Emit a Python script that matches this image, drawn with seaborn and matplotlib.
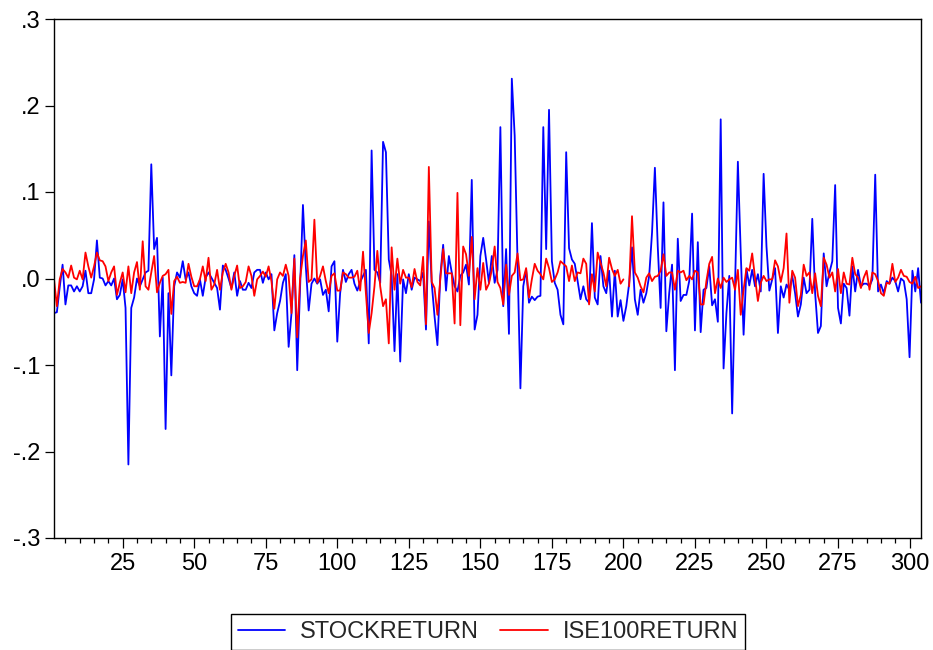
import numpy as np
import pandas as pd
import matplotlib
matplotlib.use("Agg")
import matplotlib.pyplot as plt
import seaborn as sns
from matplotlib.ticker import MultipleLocator

stockreturn = [
    -0.040, -0.039, -0.010, 0.016, -0.030, -0.008, -0.008, -0.015, -0.009, -0.015,
    -0.009, 0.009, -0.017, -0.017, -0.001, 0.044, 0.001, 0.000, -0.008, -0.003,
    -0.008, 0.000, -0.024, -0.019, -0.001, -0.034, -0.215, -0.034, -0.022, 0.000,
    -0.009, -0.001, 0.007, 0.009, 0.132, 0.034, 0.047, -0.067, 0.001, -0.174,
    -0.017, -0.112, -0.009, 0.007, 0.001, 0.020, -0.001, 0.007, -0.009, -0.017,
    -0.020, -0.001, -0.020, 0.001, 0.007, 0.001, -0.005, -0.011, -0.036, 0.015,
    0.010, 0.000, -0.011, 0.007, -0.020, -0.003, -0.013, -0.013, -0.005, -0.011,
    0.007, 0.010, 0.010, -0.005, 0.007, -0.001, 0.005, -0.060, -0.040, -0.026,
    -0.005, 0.005, -0.079, -0.040, 0.027, -0.106, -0.009, 0.085, 0.014, -0.037,
    -0.006, 0.000, -0.006, -0.001, -0.019, -0.013, -0.038, 0.014, 0.020, -0.073, -0.017,
    0.010, -0.004, 0.005, 0.010, -0.006, -0.014, -0.004, 0.003, 0.010, -0.075,
    0.148, 0.010, 0.007, -0.005, 0.158, 0.146, 0.022, 0.003, -0.084, 0.005,
    -0.096, -0.001, -0.017, 0.005, -0.013, 0.001, -0.001, -0.003, 0.007, -0.059,
    0.066, -0.005, -0.044, -0.077, 0.003, 0.039, -0.014, 0.026, 0.007, -0.009,
    -0.015, 0.003, 0.007, 0.016, -0.007, 0.114, -0.059, -0.042, 0.026, 0.047,
    0.022, -0.005, 0.026, -0.005, 0.010, 0.175, -0.032, 0.034, -0.064, 0.231,
    0.165, 0.020, -0.127, -0.009, 0.010, -0.028, -0.021, -0.025, -0.021, -0.020,
    0.175, 0.034, 0.195, 0.020, -0.005, -0.013, -0.042, -0.053, 0.146, 0.035,
    0.022, 0.017, -0.003, -0.024, -0.009, -0.024, -0.028, 0.064, -0.022, -0.030,
    0.026, -0.009, -0.017, 0.009, -0.044, 0.009, -0.044, -0.025, -0.049, -0.032,
    -0.006, 0.036, -0.024, -0.042, -0.013, -0.028, -0.017, 0.003, 0.053, 0.128,
    0.037, -0.034, 0.088, -0.061, -0.017, 0.016, -0.106, 0.046, -0.026, -0.019,
    -0.019, -0.003, 0.075, -0.060, 0.042, -0.062, -0.013, -0.011, 0.014, -0.031, -0.024,
    -0.050, 0.184, -0.104, -0.040, 0.003, -0.156, -0.009, 0.135, 0.030, -0.065,
    0.011, -0.008, 0.010, -0.009, 0.005, -0.015, 0.121, 0.037, -0.014, -0.001,
    0.012, -0.063, -0.009, -0.022, -0.007, -0.013, 0.003, -0.017, -0.044, -0.030,
    0.001, -0.017, -0.013, 0.069, -0.017, -0.063, -0.055, 0.029, -0.009, 0.007,
    0.020, 0.108, -0.034, -0.052, -0.006, -0.011, -0.043, 0.014, -0.015, 0.010,
    -0.009, -0.006, -0.006, -0.009, -0.001, 0.120, -0.015, -0.007, -0.017, -0.003,
    -0.006, 0.001, -0.003, -0.015, 0.000, -0.003, -0.024, -0.091, 0.009, -0.015,
    0.012, -0.028,
]

ise100return = [
    -0.001, -0.032, -0.001, 0.011, 0.007, 0.001, 0.015, 0.001, -0.001, 0.009,
    -0.001, 0.030, 0.014, 0.001, 0.014, 0.030, 0.021, 0.020, 0.014, -0.003,
    0.007, 0.014, -0.019, -0.005, 0.007, -0.016, 0.014, -0.017, 0.007, 0.019,
    -0.013, 0.043, -0.009, -0.013, 0.007, 0.026, -0.016, -0.005, 0.003, 0.005,
    0.010, -0.041, -0.003, 0.002, -0.005, -0.004, -0.005, 0.017, 0.002, -0.009,
    -0.009, -0.001, 0.014, -0.003, 0.024, -0.013, -0.007, 0.010, -0.013, 0.007,
    0.017, 0.007, -0.013, 0.003, 0.015, -0.011, -0.009, -0.004, 0.014, 0.003,
    -0.020, -0.001, 0.003, 0.008, 0.002, 0.014, -0.003, -0.035, -0.001, 0.007,
    0.003, 0.016, 0.003, -0.040, 0.023, -0.068, 0.000, 0.026, 0.044, -0.004,
    -0.001, 0.068, -0.005, 0.003, 0.014, -0.003, -0.017, 0.003, 0.006, -0.014, -0.014,
    0.007, 0.005, 0.001, 0.001, 0.002, 0.009, -0.014, 0.031, -0.017, -0.063,
    -0.040, -0.009, 0.032, -0.009, -0.032, -0.024, -0.075, 0.036, -0.013, 0.023,
    -0.006, 0.010, 0.001, 0.001, -0.010, 0.011, -0.004, -0.008, 0.025, -0.053,
    0.129, -0.004, -0.011, -0.042, -0.001, 0.034, 0.006, 0.006, 0.006, -0.052,
    0.099, -0.054, 0.037, 0.028, 0.003, 0.048, -0.024, 0.012, -0.013, 0.018,
    -0.013, -0.006, 0.010, 0.037, -0.004, -0.011, -0.030, 0.016, -0.019, 0.003,
    0.007, 0.029, -0.002, -0.001, 0.012, -0.022, -0.001, 0.017, 0.009, 0.005,
    -0.001, 0.023, 0.012, -0.004, -0.001, 0.007, 0.020, 0.017, 0.014, -0.003,
    0.015, -0.003, 0.007, 0.006, 0.023, 0.017, -0.030, 0.005, -0.015, 0.030,
    0.018, 0.007, -0.009, 0.024, 0.011, 0.003, 0.010, -0.006, -0.001, np.nan,
    -0.009, 0.072, 0.007, 0.001, -0.009, -0.016, 0.001, 0.006, -0.003, 0.002,
    0.003, 0.009, 0.028, 0.003, 0.007, 0.007, -0.013, 0.009, 0.007, 0.009,
    -0.002, 0.003, -0.001, 0.009, 0.007, -0.030, -0.030, -0.003, 0.017, 0.025, -0.017,
    0.000, -0.011, 0.001, -0.004, -0.001, 0.001, -0.013, 0.010, -0.042, -0.013,
    0.012, 0.009, 0.029, 0.001, -0.026, -0.005, 0.003, -0.003, -0.001, -0.001,
    0.021, 0.014, -0.004, 0.012, 0.052, -0.028, 0.009, 0.001, -0.032, -0.019,
    0.016, 0.003, 0.007, -0.017, 0.006, -0.020, -0.032, 0.024, 0.016, 0.001,
    0.007, -0.015, 0.011, -0.017, 0.007, -0.006, -0.007, 0.024, 0.005, 0.001,
    -0.011, 0.001, 0.009, -0.013, 0.007, 0.005, -0.003, -0.017, -0.020, -0.005,
    -0.006, 0.017, -0.004, 0.001, 0.010, 0.003, 0.002, -0.004, -0.006, 0.002,
    -0.011, -0.009,
]

series_names = ["STOCKRETURN", "ISE100RETURN"]
series_colors = ["#0000ff", "#ff0000"]
y_ticks = [-0.3, -0.2, -0.1, 0.0, 0.1, 0.2, 0.3]
y_tick_labels = ["-.3", "-.2", "-.1", ".0", ".1", ".2", ".3"]
x_ticks = list(range(25, 301, 25))

# long table; "seg" splits a line where a value is missing
obs = np.arange(1, len(stockreturn) + 1)
frames = []
for name, vals in zip(series_names, [stockreturn, ise100return]):
    v = np.array(vals, dtype=float)
    frames.append(pd.DataFrame({"obs": obs, "value": v, "series": name,
                                "seg": np.cumsum(np.isnan(v))}))
df = pd.concat(frames, ignore_index=True)

sns.set_theme(style="ticks")
plt.rcParams["font.family"] = ["Liberation Sans", "DejaVu Sans"]

fig = plt.figure(figsize=(9.33, 6.5), dpi=100)
ax = fig.add_axes([54 / 933, 1 - 538 / 650, (921 - 54) / 933, (538 - 19) / 650])

sns.lineplot(data=df, x="obs", y="value", hue="series", units="seg",
             estimator=None, sort=False,
             palette=dict(zip(series_names, series_colors)),
             linewidth=1.3, ax=ax)

ax.set_xlim(1, len(stockreturn))
ax.set_ylim(-0.3, 0.3)
ax.set_yticks(y_ticks, y_tick_labels)
ax.set_xticks(x_ticks)
ax.xaxis.set_minor_locator(MultipleLocator(5))
ax.set_xlabel("")
ax.set_ylabel("")
ax.grid(False)

for sp in ax.spines.values():
    sp.set_color("black")
    sp.set_linewidth(1.0)

ax.tick_params(axis="y", length=6.5, width=0.9, labelsize=17, pad=3, colors="black")
ax.tick_params(axis="x", which="major", length=7, width=0.9, labelsize=17, pad=4, colors="black")
ax.tick_params(axis="x", which="minor", length=3.5, width=0.9, colors="black")

sns.move_legend(ax, "center", bbox_to_anchor=(488 / 933, 0.028),
                bbox_transform=fig.transFigure, ncol=2, title=None,
                frameon=True, fontsize=17, handlelength=2.0,
                handletextpad=0.65, columnspacing=0.9, borderpad=0.3,
                fancybox=False, framealpha=1, edgecolor="black")
leg = ax.get_legend()
leg.get_frame().set_linewidth(1.0)

fig.savefig("out.png", dpi=100)
